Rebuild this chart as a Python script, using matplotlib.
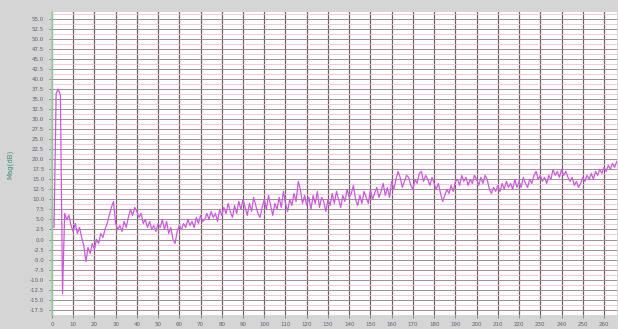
import numpy as np
import matplotlib
matplotlib.use("Agg")
import matplotlib.pyplot as plt
from matplotlib.ticker import MultipleLocator

# sample index (one reading per step) and measured level
frames = list(range(1, 267))
level = [
    3.0, 36.5, 37.5, 36.0, -13.5, 6.5, 5.0, 6.0, 3.5, 2.0, 4.0, 1.5,
    3.0, 0.5, -1.5, -5.5, -2.0, -3.5, -1.0, -2.5, 0.0, -1.0, 1.5, 0.5,
    2.5, 4.0, 6.0, 8.0, 9.5, 4.0, 2.5, 3.5, 2.0, 4.5, 3.0, 5.5,
    7.5, 6.0, 8.0, 7.0, 5.5, 6.5, 4.0, 5.0, 3.0, 4.5, 2.5, 3.5,
    2.0, 4.0, 3.0, 5.0, 2.5, 4.5, 1.5, 3.0, 0.0, -1.0, 2.0, 3.5,
    2.5, 4.0, 3.0, 5.0, 3.5, 4.5, 3.0, 5.5, 4.0, 6.0, 4.5, 5.0,
    6.5, 5.0, 7.0, 5.5, 6.5, 4.5, 7.5, 6.0, 8.0, 6.5, 9.0, 7.0,
    5.5, 8.5, 6.5, 9.5, 7.5, 10.0, 8.0, 6.0, 9.0, 7.0, 10.5, 8.5,
    6.5, 5.5, 8.0, 10.0, 7.5, 11.0, 8.5, 6.0, 9.0, 7.5, 10.5, 8.0,
    12.0, 9.0, 7.0, 10.0, 8.5, 11.5, 9.5, 14.5, 12.5, 9.0, 11.0, 8.5,
    10.5, 7.5, 11.0, 9.0, 12.0, 8.0, 10.5, 9.5, 7.0, 10.0, 8.5, 11.5,
    9.0, 12.0, 10.0, 8.0, 11.0, 9.5, 12.5, 10.5, 11.5, 13.5, 10.0, 8.5,
    11.0, 9.0, 12.0, 10.5, 9.0, 12.5, 10.0, 11.5, 13.0, 10.5, 12.0, 14.0,
    11.0, 13.0, 10.5, 14.5, 12.5, 15.0, 17.0, 15.5, 13.0, 14.5, 16.0, 15.5,
    13.5, 12.5, 15.0, 14.0, 16.5, 17.0, 14.5, 16.0, 15.0, 13.5, 15.5, 14.0,
    12.5, 14.0, 11.5, 9.5, 11.0, 12.5, 11.5, 13.5, 12.0, 14.5, 15.0, 13.5,
    16.0, 14.5, 15.5, 13.5, 15.0, 14.0, 16.0, 15.0, 13.5, 15.5, 14.0, 16.0,
    15.0, 12.5, 11.5, 13.0, 12.0, 13.5, 12.0, 14.0, 12.5, 14.5, 13.0, 14.0,
    12.5, 15.0, 13.0, 14.5, 13.0, 15.5, 14.0, 13.0, 15.0, 14.0, 16.0, 17.0,
    15.0, 16.0, 14.5, 15.5, 14.0, 16.0, 15.0, 17.5, 16.0, 17.0, 15.5, 17.5,
    16.0, 17.0, 15.5, 14.5, 15.5, 13.5, 14.5, 13.0, 14.0, 15.5, 14.5, 16.0,
    15.0, 16.5, 15.0, 17.0, 16.0, 17.5, 16.5, 18.0, 17.0, 18.5, 17.5, 19.0,
    18.0, 19.5,
]
x_ticks = list(range(0, 270, 10))
y_ticks = [-17.5 + 2.5 * i for i in range(30)]

fig = plt.figure(figsize=(6.18, 3.29), dpi=100, facecolor="#d5d5d5")
ax = fig.add_axes([0.084, 0.043, 0.914, 0.921])
ax.set_facecolor("white")

ax.plot(frames, level, color="#c95bd8", lw=0.9, zorder=3)

ax.set_xlim(0, 266)
ax.set_ylim(-18.8, 56.8)
ax.set_xticks(x_ticks)
ax.set_yticks(y_ticks)
ax.yaxis.set_minor_locator(MultipleLocator(1.25))
ax.set_yticklabels([f"{v:.1f}" for v in y_ticks])

ax.grid(True, axis="x", which="major", color="#6f6166", lw=0.9)
ax.grid(True, axis="y", which="major", color="#a08c98", lw=0.7)
ax.grid(True, axis="y", which="minor", color="#f2bfcf", lw=0.6)
ax.set_axisbelow(True)

ax.tick_params(axis="both", labelsize=4, colors="#5e5e6e", length=2, width=0.5)
ax.tick_params(axis="y", which="minor", length=0)
for side in ("top", "right", "bottom"):
    ax.spines[side].set_visible(False)
ax.spines["left"].set_color("#9ed4a6")
ax.spines["left"].set_linewidth(1.2)

fig.text(0.017, 0.5, "Mag(dB)", rotation=90, color="#3f8a78",
         fontsize=5, va="center", ha="center")

fig.savefig("out.png", dpi=100, facecolor=fig.get_facecolor())
